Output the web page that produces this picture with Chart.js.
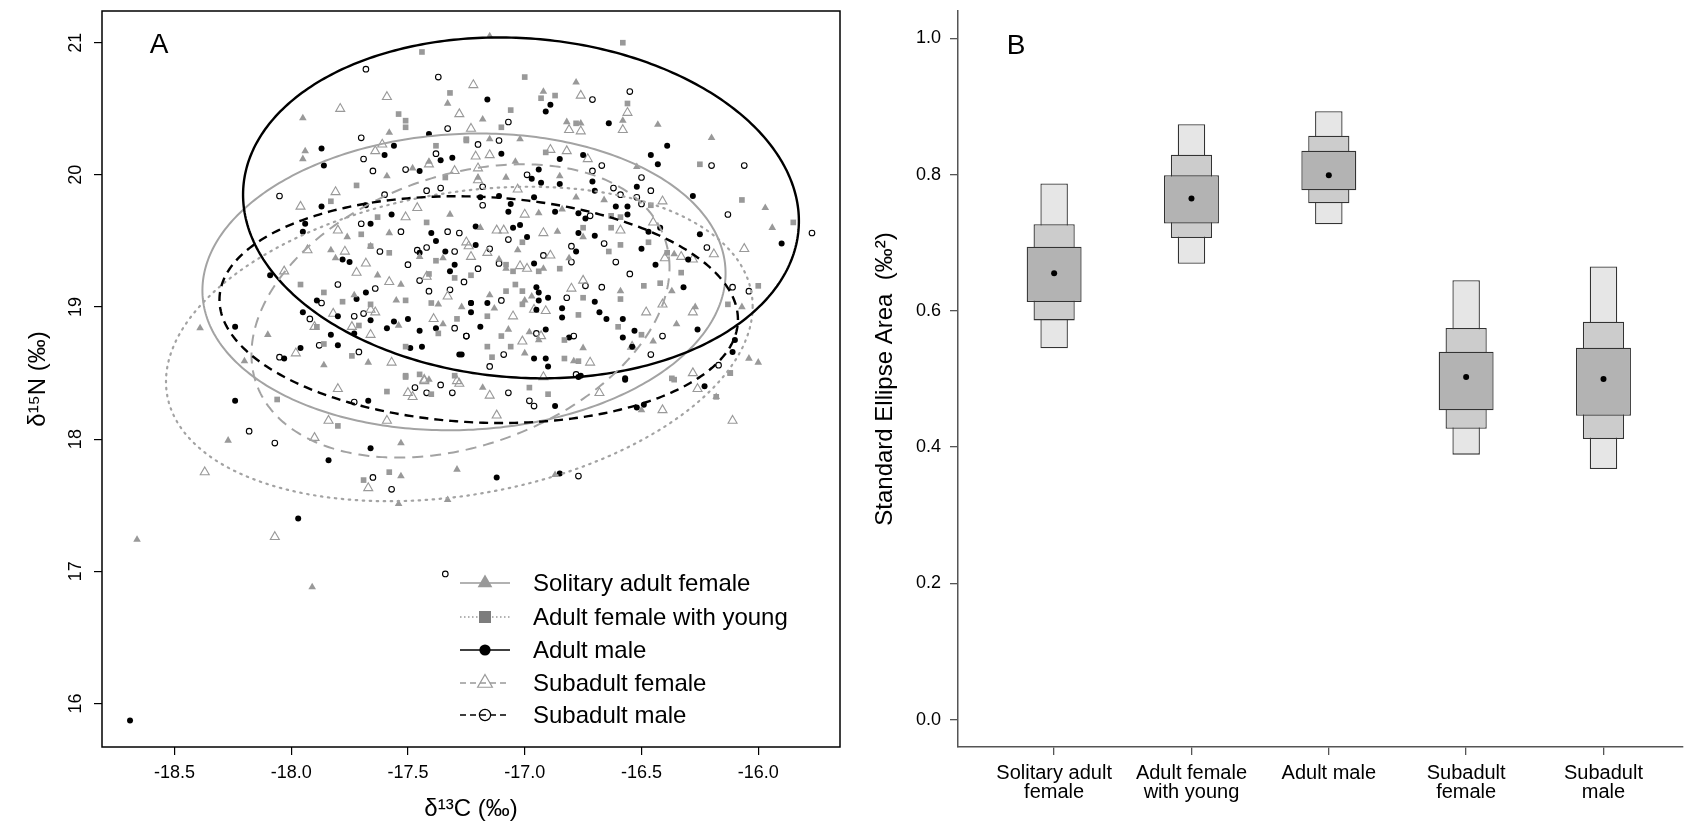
<!DOCTYPE html>
<html><head><meta charset="utf-8">
<script src="https://cdn.jsdelivr.net/npm/chart.js@4.4.1/dist/chart.umd.min.js"></script>
<style>
html,body{margin:0;padding:0;background:#fff;overflow:hidden;}
#wrap{position:relative;width:1687px;height:829px;background:#fff;}
#cA{position:absolute;left:0;top:0;}
#cB{position:absolute;left:860px;top:0;}
</style></head><body>
<div id="wrap"><canvas id="cA" width="860" height="829"></canvas><canvas id="cB" width="827" height="829"></canvas></div>
<script>
// ---------------- DATA ----------------
const groupNames = ['Solitary adult female','Adult female with young','Adult male','Subadult female','Subadult male'];

// panel A : d13C, d15N (per mil)
const solitaryFemale = [[-17.33,20.54],[-17.95,20.43],[-17.58,20.32],[-17.94,20.18],[-17.95,20.12],[-17.59,19.99],[-17.41,20.10],[-17.48,20.05],[-17.32,19.70],[-17.58,19.56],[-17.76,19.53],[-17.83,19.43],[-17.81,19.37],[-17.66,19.46],[-17.45,19.38],[-17.35,19.37],[-17.63,19.24],[-17.53,19.17],[-17.73,19.09],[-17.55,19.05],[-17.37,19.02],[-17.27,19.00],[-17.35,18.87],[-17.54,18.86],[-18.10,18.79],[-17.86,18.56],[-17.67,18.58],[-18.20,18.59],[-18.39,18.84],[-17.41,18.45],
[-17.15,21.05],[-16.78,20.70],[-16.92,20.63],[-17.18,20.42],[-16.43,20.38],[-16.20,20.28],[-17.15,20.27],[-17.02,20.27],[-16.82,20.40],[-16.76,20.39],[-16.58,20.41],[-17.08,19.98],[-16.85,19.99],[-17.04,20.10],[-16.52,20.06],[-16.84,19.74],[-16.94,19.71],[-16.66,19.81],[-16.78,19.83],[-17.20,19.98],[-16.75,19.53],[-16.86,19.57],[-17.19,19.60],[-17.11,19.36],[-17.08,19.29],[-16.92,19.29],[-17.03,19.43],[-16.81,19.37],[-16.36,19.40],[-16.27,19.00],[-16.59,19.12],[-16.37,19.12],[-16.07,19.00],[-15.94,19.60],[-15.97,19.75],[-16.35,18.87],[-16.75,18.69],[-16.94,18.75],[-17.07,18.83],[-16.98,18.81],[-17.00,18.65],[-16.79,18.59],[-16.45,18.74],[-16.04,18.61],[-16.00,18.58],[-17.15,19.09],[-17.13,18.99],[-17.00,19.05],[-16.97,19.08],
[-18.27,17.99],[-17.53,17.97],[-17.53,17.72],[-17.29,17.77],[-18.66,17.24],[-17.91,16.88],[-17.54,17.51],[-17.33,17.54],[-17.18,18.39],[-16.50,18.22],[-16.87,17.73],[-16.18,18.32]];

const femaleWithYoung = [[-17.44,20.93],[-17.32,20.62],[-17.54,20.46],[-17.51,20.41],[-17.51,20.36],[-17.25,20.26],[-17.38,20.22],[-17.34,19.98],[-17.72,19.92],[-17.83,19.80],[-17.63,19.68],[-17.42,19.64],[-17.70,19.55],[-17.66,19.46],[-17.58,19.41],[-17.38,19.35],[-17.41,19.25],[-17.30,19.22],[-17.96,19.17],[-17.86,19.11],[-17.78,19.04],[-17.66,19.02],[-17.51,19.05],[-17.40,19.03],[-17.29,18.91],[-17.89,18.85],[-17.71,18.86],[-17.37,18.80],[-17.51,18.70],[-17.74,18.63],[-17.86,18.72],[-17.51,18.48],[-17.45,18.49],
[-16.58,21.00],[-17.00,20.74],[-16.87,20.60],[-16.93,20.58],[-17.06,20.49],[-16.56,20.54],[-17.10,20.36],[-16.78,20.39],[-17.25,20.27],[-16.25,20.08],[-16.07,19.81],[-15.85,19.64],[-16.91,20.17],[-16.59,19.68],[-16.63,19.69],[-16.46,19.77],[-17.01,19.49],[-16.75,19.60],[-16.63,19.60],[-16.59,19.47],[-16.47,19.49],[-16.64,19.42],[-16.39,19.41],[-16.33,19.26],[-16.42,19.18],[-16.49,19.16],[-16.85,19.29],[-16.94,19.27],[-17.08,19.32],[-17.23,19.24],[-17.05,19.27],[-17.04,19.17],[-17.01,19.12],[-17.08,19.12],[-17.16,18.93],[-17.01,19.02],[-16.77,18.94],[-16.75,19.07],[-16.59,19.06],[-16.60,18.85],[-16.50,18.79],[-17.10,18.78],[-17.16,18.70],[-17.06,18.70],[-17.14,18.62],[-16.83,18.61],[-16.77,18.59],[-16.83,18.75],[-16.13,19.02],[-16.00,19.16],[-16.12,18.50],[-16.37,18.46],
[-18.06,18.30],[-17.80,18.10],[-17.59,18.36],[-17.51,18.47],[-17.40,18.34],[-17.69,17.69],[-17.58,17.75],[-17.30,18.48],[-16.98,18.39],[-16.90,18.34],[-16.36,18.45],[-16.12,18.50],[-16.18,18.32]];

const adultMale = [[-17.87,20.20],[-17.86,20.07],[-17.60,20.15],[-17.56,20.22],[-17.41,20.31],[-17.36,20.11],[-17.31,20.13],[-17.45,20.03],[-17.87,19.76],[-17.68,19.77],[-17.94,19.63],[-17.95,19.57],[-17.66,19.63],[-17.57,19.70],[-17.40,19.56],[-17.38,19.50],[-17.34,19.42],[-17.30,19.32],[-17.45,19.41],[-17.78,19.36],[-17.75,19.34],[-18.09,19.24],[-17.32,19.27],[-17.68,19.11],[-17.89,19.05],[-17.72,19.06],[-17.23,19.03],[-17.95,18.96],[-17.80,18.93],[-17.66,18.90],[-17.59,18.84],[-17.56,18.89],[-17.50,18.91],[-17.45,18.82],[-17.38,18.84],[-17.83,18.79],[-17.73,18.80],[-17.96,18.69],[-17.80,18.71],[-18.24,18.85],[-18.03,18.61],[-17.49,18.69],[-17.44,18.70],[-17.28,18.64],
[-17.16,20.57],[-16.89,20.53],[-16.91,20.48],[-16.64,20.39],[-16.39,20.22],[-16.46,20.15],[-16.43,20.08],[-17.10,20.16],[-16.85,20.12],[-16.75,20.15],[-16.94,20.04],[-16.97,19.97],[-16.93,19.94],[-16.71,19.95],[-16.85,19.93],[-16.52,19.91],[-16.70,19.88],[-17.11,19.84],[-17.19,19.83],[-16.96,19.83],[-16.61,19.76],[-16.56,19.76],[-16.56,19.70],[-16.28,19.84],[-17.06,19.78],[-17.07,19.72],[-16.87,19.72],[-16.77,19.71],[-16.74,19.67],[-16.42,19.60],[-16.47,19.57],[-16.25,19.55],[-15.90,19.48],[-17.05,19.60],[-17.02,19.62],[-16.99,19.53],[-16.77,19.56],[-16.70,19.54],[-17.21,19.61],[-17.21,19.47],[-16.78,19.42],[-16.50,19.44],[-16.96,19.33],[-16.44,19.32],[-16.30,19.36],[-16.95,19.15],[-16.94,19.11],[-16.90,19.07],[-16.94,19.05],[-16.95,18.98],[-16.70,19.04],[-16.68,18.96],[-16.65,18.91],[-16.84,18.99],[-16.84,18.92],[-16.58,18.91],[-17.23,19.03],[-17.16,19.03],[-16.32,19.15],[-16.26,18.83],[-16.53,18.82],[-16.58,18.77],[-16.91,18.83],[-16.54,18.70],[-16.81,18.77],[-16.96,18.61],[-16.91,18.61],[-16.90,18.55],[-17.19,18.85],[-17.27,18.64],[-16.76,18.48],[-16.57,18.46],[-17.23,18.96],[-16.10,18.75],[-16.11,18.66],
[-18.24,18.29],[-17.67,18.29],[-17.66,17.93],[-17.84,17.84],[-17.97,17.40],[-18.69,15.87],[-16.77,18.47],[-16.57,18.45],[-16.87,18.25],[-16.52,18.24],[-16.49,18.26],[-16.23,18.40],[-17.12,17.71],[-16.85,17.74]];

const subadultFemale = [[-17.59,20.59],[-17.79,20.50],[-17.28,20.46],[-17.22,20.68],[-17.61,20.23],[-17.64,20.18],[-17.41,20.08],[-17.30,20.03],[-17.81,19.87],[-17.96,19.76],[-17.46,19.75],[-17.51,19.68],[-17.80,19.58],[-17.93,19.43],[-17.77,19.42],[-18.03,19.27],[-17.68,19.33],[-17.72,19.26],[-17.25,19.49],[-17.58,19.19],[-17.42,19.23],[-17.33,19.08],[-17.39,18.91],[-17.66,18.98],[-17.64,18.96],[-17.82,18.95],[-17.90,18.85],[-17.74,18.85],[-17.66,18.79],[-17.98,18.65],[-17.57,18.58],[-17.43,18.45],[-17.29,18.44],
[-16.76,20.60],[-16.56,20.47],[-16.58,20.34],[-16.81,20.34],[-16.76,20.33],[-17.23,20.35],[-17.21,20.14],[-17.15,20.15],[-16.89,20.19],[-16.82,20.18],[-16.73,20.12],[-17.20,20.05],[-17.20,19.96],[-17.03,19.89],[-17.00,19.70],[-16.92,19.56],[-16.89,19.39],[-17.12,19.58],[-17.09,19.58],[-17.24,19.46],[-17.16,19.41],[-17.23,19.38],[-17.02,19.31],[-16.99,19.29],[-16.41,19.80],[-16.45,19.64],[-16.59,19.58],[-16.19,19.40],[-16.06,19.44],[-16.40,19.37],[-16.33,19.38],[-16.28,19.36],[-16.75,19.20],[-16.80,19.14],[-16.48,18.96],[-16.41,19.02],[-16.28,18.96],[-16.54,18.70],[-16.93,18.78],[-17.01,18.74],[-17.05,18.93],[-16.96,18.98],[-16.91,18.97],[-16.92,18.47],[-16.72,18.58],[-16.28,18.50],
[-17.80,18.38],[-17.84,18.14],[-17.59,18.14],[-17.90,18.01],[-18.37,17.75],[-17.67,17.63],[-18.07,17.26],[-17.50,18.35],[-17.48,18.32],[-17.43,18.44],[-17.28,18.42],[-17.15,18.33],[-17.12,18.18],[-16.26,18.38],[-16.41,18.22],[-16.11,18.14],[-16.68,18.35]];

const subadultMale = [[-17.68,20.80],[-17.37,20.74],[-17.33,20.35],[-17.70,20.28],[-17.69,20.12],[-17.65,20.03],[-17.51,20.04],[-17.38,20.16],[-18.05,19.84],[-17.60,19.85],[-17.42,19.88],[-17.36,19.90],[-17.70,19.63],[-17.53,19.57],[-17.33,19.57],[-17.28,19.56],[-17.62,19.42],[-17.46,19.43],[-17.42,19.45],[-17.50,19.32],[-17.30,19.42],[-17.80,19.17],[-17.64,19.14],[-17.45,19.20],[-17.41,19.12],[-17.32,19.13],[-17.92,18.91],[-17.73,18.93],[-17.69,18.95],[-17.30,18.84],[-17.25,18.78],[-17.88,18.71],[-17.71,18.66],[-18.05,18.62],[-17.87,19.03],
[-16.71,20.57],[-16.55,20.63],[-17.07,20.40],[-17.11,20.26],[-17.20,20.23],[-16.67,20.07],[-16.20,20.07],[-16.06,20.07],[-16.99,20.00],[-16.71,20.03],[-16.50,19.98],[-16.62,19.90],[-16.46,19.88],[-16.59,19.85],[-16.52,19.83],[-16.50,19.78],[-17.18,19.91],[-17.18,19.77],[-16.13,19.70],[-16.72,19.69],[-15.77,19.56],[-17.07,19.51],[-16.80,19.46],[-16.66,19.48],[-16.22,19.45],[-17.15,19.44],[-16.92,19.39],[-17.11,19.33],[-16.80,19.34],[-16.61,19.34],[-16.55,19.25],[-17.20,19.29],[-17.26,19.19],[-17.10,19.05],[-16.82,19.07],[-16.74,19.16],[-16.67,19.15],[-16.11,19.15],[-16.04,19.12],[-16.41,18.78],[-16.79,18.78],[-16.95,18.80],[-17.25,18.78],[-17.15,18.55],[-17.09,18.64],[-16.46,18.64],[-16.17,18.56],
[-18.18,18.06],[-18.07,17.97],[-17.65,17.71],[-17.57,17.62],[-17.47,18.39],[-17.42,18.35],[-17.36,18.41],[-17.31,18.35],[-17.73,18.28],[-17.34,16.98],[-17.07,18.35],[-16.98,18.29],[-16.96,18.25],[-16.78,18.49],[-16.77,17.72]];

// standard ellipses (order as groupNames)
const ellipseCentreX   = [-17.26, -17.28, -17.016, -17.275, -17.197];
const ellipseCentreY   = [19.19, 18.72, 19.75, 18.97, 18.98];
const ellipseHalfWidth = [1.12, 1.256, 1.19, 0.895, 1.11];
const ellipseHalfHeight= [1.123, 1.19, 1.29, 1.11, 0.858];
const ellipseTilt      = [0.065, 0.285, -0.10, 0.33, -0.075];

const xTicksA = [-18.5, -18.0, -17.5, -17.0, -16.5, -16.0];
const yTicksA = [16, 17, 18, 19, 20, 21];

// panel B : SEA credible intervals
const seaCategories = [['Solitary adult','female'],['Adult female','with young'],['Adult male'],['Subadult','female'],['Subadult','male']];
const seaMode = [0.655, 0.765, 0.799, 0.503, 0.500];
const sea95 = [[0.545,0.787],[0.669,0.874],[0.727,0.893],[0.389,0.645],[0.368,0.665]];
const sea75 = [[0.586,0.727],[0.707,0.829],[0.758,0.857],[0.427,0.575],[0.412,0.584]];
const sea50 = [[0.613,0.694],[0.728,0.799],[0.777,0.835],[0.454,0.540],[0.446,0.546]];
const yTicksB = [0.0, 0.2, 0.4, 0.6, 0.8, 1.0];

// ---------------- STYLE ----------------
const FONT = '"Liberation Sans", Arial, Helvetica, sans-serif';
Chart.defaults.font.family = FONT;
Chart.defaults.color = '#000';
const GRAY = '#999999';
const LGRAY = '#a3a3a3';
const pts = a => a.map(p => ({x: p[0], y: p[1]}));
const noPad = s => { s.paddingTop = 0; s.paddingBottom = 0; s.paddingLeft = 0; s.paddingRight = 0; };

const markerStyles = [
  {pointStyle:'triangle', radius:4.4, fill:GRAY, stroke:GRAY, bw:0},
  {pointStyle:'rect', radius:4.0, fill:GRAY, stroke:GRAY, bw:0},
  {pointStyle:'circle', radius:3.0, fill:'#000', stroke:'#000', bw:0},
  {pointStyle:'triangle', radius:5.2, fill:'rgba(0,0,0,0)', stroke:GRAY, bw:1.1},
  {pointStyle:'circle', radius:2.8, fill:'rgba(0,0,0,0)', stroke:'#000', bw:1.1}
];
const ellipseStyles = [
  {color:LGRAY, width:2, dash:[]},
  {color:LGRAY, width:2.2, dash:[1.5,5.5], cap:'round'},
  {color:'#000', width:2.4, dash:[]},
  {color:LGRAY, width:2, dash:[11,7]},
  {color:'#000', width:2.4, dash:[9,6]}
];
const legendSeries = [solitaryFemale, femaleWithYoung, adultMale, subadultFemale, subadultMale];

const scatterSets = legendSeries.map((arr, i) => ({
  label: groupNames[i], data: pts(arr),
  pointStyle: markerStyles[i].pointStyle, pointRadius: markerStyles[i].radius, pointHoverRadius: markerStyles[i].radius,
  backgroundColor: markerStyles[i].fill, borderColor: markerStyles[i].stroke, borderWidth: markerStyles[i].bw,
  pointBorderWidth: markerStyles[i].bw
}));

const panelAPlugin = {
  id: 'panelA',
  afterDatasetsDraw(chart) {
    const {ctx, scales: {x, y}, chartArea: ca} = chart;
    ctx.save();
    ctx.beginPath(); ctx.rect(ca.left, ca.top, ca.right - ca.left, ca.bottom - ca.top); ctx.clip();
    ellipseCentreX.forEach((cx, i) => {
      const st = ellipseStyles[i];
      const hw = ellipseHalfWidth[i], hh = ellipseHalfHeight[i], t = ellipseTilt[i], cy = ellipseCentreY[i];
      const b = Math.sqrt(hh * hh - t * t);
      ctx.beginPath();
      for (let k = 0; k <= 360; k++) {
        const a = k * Math.PI / 180;
        const px = x.getPixelForValue(cx + hw * Math.cos(a));
        const py = y.getPixelForValue(cy + t * Math.cos(a) + b * Math.sin(a));
        if (k) ctx.lineTo(px, py); else ctx.moveTo(px, py);
      }
      ctx.closePath();
      ctx.setLineDash(st.dash); ctx.lineWidth = st.width; ctx.strokeStyle = st.color; ctx.lineCap = st.cap || 'butt';
      ctx.stroke();
    });
    ctx.restore();
  },
  afterDraw(chart) {
    const {ctx, scales: {y}, chartArea: ca} = chart;
    ctx.save();
    ctx.strokeStyle = '#000'; ctx.lineWidth = 1.5; ctx.setLineDash([]);
    ctx.strokeRect(ca.left, ca.top, ca.right - ca.left, ca.bottom - ca.top);
    ctx.fillStyle = '#000'; ctx.font = '18px ' + FONT; ctx.textAlign = 'center'; ctx.textBaseline = 'middle';
    y.ticks.forEach(t => {
      const py = y.getPixelForValue(t.value);
      ctx.save(); ctx.translate(ca.left - 26, py); ctx.rotate(-Math.PI / 2); ctx.fillText(String(t.value), 0, 0); ctx.restore();
    });
    ctx.font = '28px ' + FONT; ctx.textAlign = 'center'; ctx.textBaseline = 'middle';
    ctx.fillText('A', ca.left + 57, ca.top + 34);
    const lx0 = ca.left + 358, lx1 = ca.left + 408, mx = ca.left + 383, tx = ca.left + 431;
    const rows = [583, 617, 650, 683, 715];
    const legMarkers = [
      {pointStyle:'triangle', radius:8.5}, {pointStyle:'rect', radius:8.5}, {pointStyle:'circle', radius:5.6},
      {pointStyle:'triangle', radius:8.5}, {pointStyle:'circle', radius:5.6}
    ];
    const legFill = [GRAY, '#7d7d7d', '#000', 'rgba(0,0,0,0)', 'rgba(0,0,0,0)'];
    const legLine = [
      {color:GRAY, dash:[], w:1.4}, {color:GRAY, dash:[1.5,2.5], w:1.4}, {color:'#000', dash:[], w:1.4},
      {color:GRAY, dash:[6,4], w:1.4}, {color:'#000', dash:[6,4], w:1.4}
    ];
    groupNames.forEach((name, i) => {
      const ry = rows[i];
      ctx.setLineDash(legLine[i].dash); ctx.strokeStyle = legLine[i].color; ctx.lineWidth = legLine[i].w;
      ctx.beginPath(); ctx.moveTo(lx0, ry); ctx.lineTo(lx1, ry); ctx.stroke();
      ctx.setLineDash([]);
      ctx.fillStyle = legFill[i]; ctx.strokeStyle = markerStyles[i].stroke; ctx.lineWidth = 1.2;
      Chart.helpers.drawPoint(ctx, {pointStyle: legMarkers[i].pointStyle, radius: legMarkers[i].radius, rotation: 0, borderWidth: markerStyles[i].bw ? 1.2 : 0}, mx, ry);
      ctx.fillStyle = '#000'; ctx.font = '24px ' + FONT; ctx.textAlign = 'left'; ctx.textBaseline = 'middle';
      ctx.fillText(name, tx, ry + 1);
    });
    ctx.restore();
  }
};

new Chart(document.getElementById('cA'), {
  type: 'scatter',
  data: { datasets: scatterSets },
  plugins: [panelAPlugin],
  options: {
    responsive: false, animation: false, events: [],
    layout: { padding: { left: 0, right: 20, top: 11, bottom: 0 } },
    plugins: { legend: { display: false }, tooltip: { enabled: false } },
    scales: {
      x: {
        type: 'linear', min: -18.81, max: -15.65,
        afterBuildTicks: s => { s.ticks = xTicksA.map(v => ({ value: v })); },
        afterFit: s => { s.height = 82; noPad(s); },
        ticks: { callback: v => v.toFixed(1), font: { size: 18 }, padding: 7, autoSkip: false, maxRotation: 0, minRotation: 0, color: '#000' },
        grid: { drawOnChartArea: false, drawTicks: true, tickLength: 8, color: '#000', lineWidth: 1.2 },
        border: { display: false },
        title: { display: true, text: 'δ¹³C (‰)', font: { size: 24 }, color: '#000', padding: { top: 0, bottom: 5 } }
      },
      y: {
        type: 'linear', min: 15.67, max: 21.24,
        afterBuildTicks: s => { s.ticks = yTicksA.map(v => ({ value: v })); },
        afterFit: s => { s.width = 102; noPad(s); },
        ticks: { color: 'rgba(0,0,0,0)', font: { size: 18 }, autoSkip: false },
        grid: { drawOnChartArea: false, drawTicks: true, tickLength: 8, color: '#000', lineWidth: 1.2 },
        border: { display: false },
        title: { display: true, text: 'δ¹⁵N (‰)', font: { size: 24 }, color: '#000', padding: { top: 24, bottom: 0 } }
      }
    }
  }
});

// ---------------- PANEL B ----------------
const barCommon = { type: 'bar', grouped: false, categoryPercentage: 1, borderColor: '#333', borderWidth: 1.3, borderSkipped: false };
const panelBPlugin = {
  id: 'panelB',
  afterDraw(chart) {
    const {ctx, chartArea: ca} = chart;
    ctx.save();
    ctx.fillStyle = '#000'; ctx.font = '28px ' + FONT; ctx.textAlign = 'center'; ctx.textBaseline = 'middle';
    ctx.fillText('B', ca.left + 58, ca.top + 35);
    ctx.restore();
  }
};
new Chart(document.getElementById('cB'), {
  type: 'bar',
  data: {
    datasets: [
      Object.assign({}, barCommon, { label: '95%', data: sea95.map((r, i) => ({ x: i + 1, y: r })), backgroundColor: '#e6e6e6', barPercentage: 0.2, order: 3 }),
      Object.assign({}, barCommon, { label: '75%', data: sea75.map((r, i) => ({ x: i + 1, y: r })), backgroundColor: '#cccccc', barPercentage: 0.3, order: 2 }),
      Object.assign({}, barCommon, { label: '50%', data: sea50.map((r, i) => ({ x: i + 1, y: r })), backgroundColor: '#b3b3b3', barPercentage: 0.4, order: 1 }),
      { type: 'scatter', label: 'mode', data: seaMode.map((v, i) => ({ x: i + 1, y: v })), pointRadius: 3, backgroundColor: '#000', borderWidth: 0, order: 0 }
    ]
  },
  plugins: [panelBPlugin],
  options: {
    responsive: false, animation: false, events: [],
    layout: { padding: { left: 0, right: 0, top: 11, bottom: 0 } },
    plugins: { legend: { display: false }, tooltip: { enabled: false } },
    scales: {
      x: {
        type: 'linear', min: 0.3, max: 5.579, offset: false,
        afterBuildTicks: s => { s.ticks = seaCategories.map((c, i) => ({ value: i + 1 })); },
        afterFit: s => { s.height = 82; noPad(s); },
        ticks: { callback: (v, i) => seaCategories[i], font: { size: 20, lineHeight: 0.95 }, padding: 9, autoSkip: false, maxRotation: 0, minRotation: 0, color: '#000' },
        grid: { drawOnChartArea: false, drawTicks: true, tickLength: 8, color: '#555', lineWidth: 1.3, offset: false },
        border: { display: true, color: '#555', width: 1.5 }
      },
      y: {
        type: 'linear', min: -0.04, max: 1.04,
        afterBuildTicks: s => { s.ticks = yTicksB.map(v => ({ value: v })); },
        afterFit: s => { s.width = 98; noPad(s); },
        ticks: { callback: v => v.toFixed(1), font: { size: 18 }, padding: 9, autoSkip: false, color: '#000' },
        grid: { drawOnChartArea: false, drawTicks: true, tickLength: 8, color: '#555', lineWidth: 1.3 },
        border: { display: true, color: '#555', width: 1.5 },
        title: { display: true, text: 'Standard Ellipse Area  (‰²)', font: { size: 24 }, color: '#000', padding: { top: 11, bottom: 0 } }
      }
    }
  }
});
</script>
</body></html>
